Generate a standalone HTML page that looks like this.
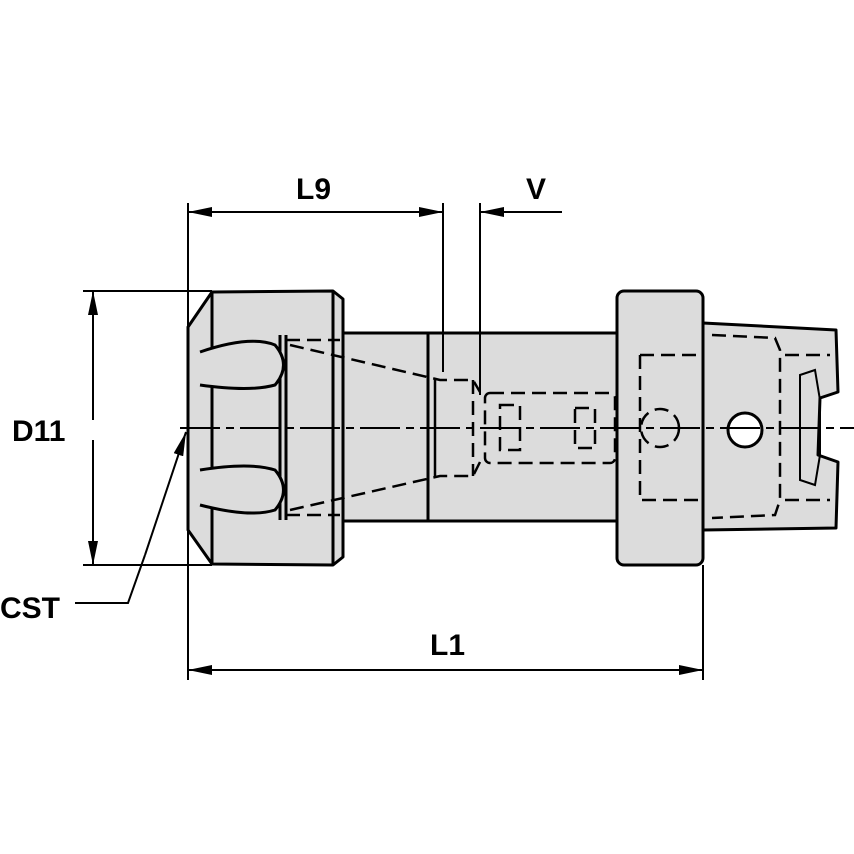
<!DOCTYPE html>
<html><head><style>body{margin:0;background:#fff}svg{display:block}text{font-family:"Liberation Sans",Arial,sans-serif;font-weight:bold;font-size:30px}</style></head>
<body>
<svg width="854" height="854" viewBox="0 0 854 854" xmlns="http://www.w3.org/2000/svg">
<defs><marker id="a" markerWidth="24" markerHeight="10" refX="24" refY="5" orient="auto" markerUnits="userSpaceOnUse"><path d="M0,0 L24,5 L0,10 Z" fill="#000"/></marker></defs>
<g stroke="#000" stroke-width="3" fill="#dcdcdc" stroke-linejoin="round">
<!-- shaft -->
<rect x="340" y="333" width="280" height="188"/>
<line x1="428" y1="333" x2="428" y2="521"/>
<!-- nut -->
<path d="M212,292 L333,291 L343,299 L343,557 L333,565 L212,564 L188,530 L188,327 Z"/>
<line x1="212" y1="292" x2="212" y2="564"/>
<line x1="280" y1="335" x2="280" y2="520"/>
<line x1="286" y1="335" x2="286" y2="520"/>
<line x1="333" y1="291" x2="333" y2="565"/>
<path d="M200,352 Q250,335 275,345 Q292,365 275,385 Q250,392 200,385" fill="#dcdcdc"/>
<path d="M200,470 Q250,462 275,470 Q292,490 275,510 Q250,518 200,505" fill="#dcdcdc"/>
<!-- flange -->
<rect x="617" y="291" width="86" height="274" rx="7"/>
<!-- right part -->
<path d="M703,323 L836,330 L838,392 L820,398 L818,455 L838,462 L836,528 L703,530 Z"/>
<circle cx="745" cy="430" r="17" fill="#fff"/>
</g>
<g stroke="#000" stroke-width="2.5" fill="none" stroke-dasharray="14,7">
<path d="M290,345 L440,380 L473,380 L480,392"/>
<path d="M290,510 L440,476 L473,476 L480,462"/>
<path d="M286,340 L340,340 M286,515 L340,515"/>
<line x1="435" y1="380" x2="435" y2="476" stroke-dasharray="none"/>
<line x1="473" y1="380" x2="473" y2="476"/>
<rect x="485" y="393" width="130" height="70" rx="5"/>
<rect x="500" y="405" width="20" height="45"/>
<rect x="575" y="408" width="20" height="40"/>
<path d="M640,355 L703,355 M640,355 L640,500 L703,500"/>
<path d="M712,335 L775,338 L780,350 L780,500 L775,515 L712,518"/>
<path d="M785,355 L830,355 M785,500 L830,500"/>
<circle cx="660" cy="428" r="19"/>
<path d="M800,375 L815,370 L820,400 L820,455 L815,485 L800,480 Z" stroke-dasharray="none" stroke-width="2"/>
</g>
<line x1="180" y1="428" x2="854" y2="428" stroke="#000" stroke-width="2" stroke-dasharray="40,6,8,6"/>
<g stroke="#000" stroke-width="2" fill="none">
<line x1="188" y1="203" x2="188" y2="680"/>
<line x1="443" y1="203" x2="443" y2="372"/>
<line x1="480" y1="203" x2="480" y2="395"/>
<line x1="703" y1="565" x2="703" y2="680"/>
<line x1="200" y1="212" x2="443" y2="212" marker-end="url(#a)"/>
<line x1="430" y1="212" x2="188" y2="212" marker-end="url(#a)"/>
<line x1="562" y1="212" x2="480" y2="212" marker-end="url(#a)"/>
<line x1="83" y1="291" x2="212" y2="291"/>
<line x1="83" y1="565" x2="212" y2="565"/>
<line x1="93" y1="420" x2="93" y2="291" marker-end="url(#a)"/>
<line x1="93" y1="440" x2="93" y2="565" marker-end="url(#a)"/>
<line x1="450" y1="670" x2="188" y2="670" marker-end="url(#a)"/>
<line x1="440" y1="670" x2="703" y2="670" marker-end="url(#a)"/>
<polyline points="75,603 128,603 145,555"/>
<line x1="145" y1="555" x2="186" y2="432" marker-end="url(#a)"/>
</g>
<text x="296" y="199">L9</text>
<text x="526" y="199">V</text>
<text x="12" y="441">D11</text>
<text x="0" y="618">CST</text>
<text x="430" y="655">L1</text>
</svg>
</body></html>
